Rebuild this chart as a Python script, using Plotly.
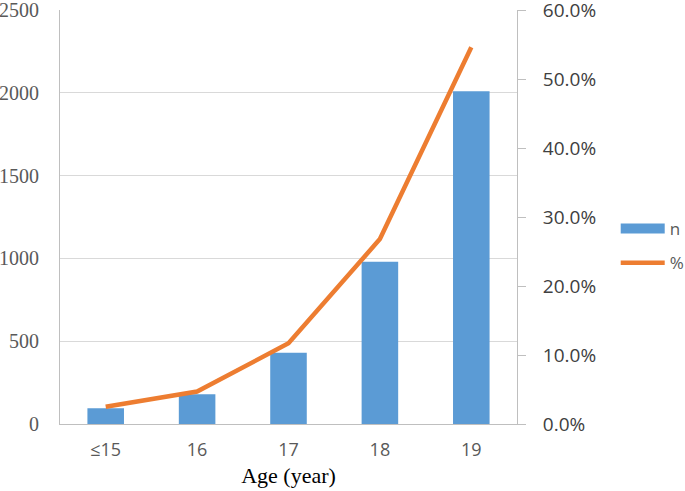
import plotly.graph_objects as go

categories = ["≤15", "16", "17", "18", "19"]
n_values = [95, 180, 430, 980, 2010]
pct_values = [2.5, 4.7, 11.7, 26.8, 54.6]
left_ticks = [0, 500, 1000, 1500, 2000, 2500]
right_ticks = [0, 10, 20, 30, 40, 50, 60]
right_labels = ["%.1f%%" % v for v in right_ticks]

BLUE = "#5B9BD5"
ORANGE = "#ED7D31"
GRID = "#D9D9D9"
AXIS = "#BFBFBF"

fig = go.Figure()
fig.add_trace(go.Bar(x=categories, y=n_values, name="n", marker=dict(color=BLUE, line=dict(width=0)),
                     width=0.4, showlegend=False, yaxis="y"))
fig.add_trace(go.Scatter(x=categories, y=pct_values, name="%", mode="lines",
                         line=dict(color=ORANGE, width=4.5), showlegend=False, yaxis="y2"))
# legend entries
fig.add_trace(go.Scatter(x=[None], y=[None], name="n", mode="lines", legendgroup="a",
                         line=dict(color=BLUE, width=12), showlegend=True))
fig.add_trace(go.Scatter(x=[None], y=[None], name="%", mode="lines", legendgroup="b",
                         line=dict(color=ORANGE, width=4.5), showlegend=True, yaxis="y2"))

fig.update_layout(
    width=685, height=491,
    margin=dict(l=60, r=168, t=10, b=67, autoexpand=False),
    plot_bgcolor="white", paper_bgcolor="white",
    xaxis=dict(
        type="category", showline=True, linecolor=AXIS, linewidth=1, automargin=False,
        showgrid=False, ticks="", ticklabelstandoff=9, ticklabeloverflow="allow",
        tickfont=dict(family="Open Sans", size=18, color="#595959"),
        title=dict(text="Age (year)", font=dict(family="Liberation Serif", size=22, color="#000000"), standoff=8),
    ),
    yaxis=dict(
        range=[0, 2500], tickvals=left_ticks, showline=True, linecolor=AXIS, linewidth=1, automargin=False,
        showgrid=True, gridcolor=GRID, gridwidth=1, ticks="", ticklabelstandoff=16, ticklabeloverflow="allow",
        tickfont=dict(family="Liberation Serif", size=20, color="#595959"), zeroline=False,
    ),
    yaxis2=dict(
        range=[0, 60], tickvals=right_ticks, ticktext=right_labels, overlaying="y", side="right",
        showline=False, showgrid=False, zeroline=False, automargin=False,
        ticks="outside", ticklen=21, tickcolor="rgba(0,0,0,0)", ticklabeloverflow="allow",
        tickfont=dict(family="Open Sans", size=19, color="#404040"),
    ),
    yaxis3=dict(
        range=[0, 60], tickvals=right_ticks, overlaying="y", side="right", showticklabels=False,
        showline=True, linecolor=AXIS, linewidth=1, showgrid=False, zeroline=False, automargin=False,
        ticks="outside", ticklen=8, tickcolor=AXIS,
    ),
    legend=dict(x=1.216, y=0.43, xanchor="left", yanchor="middle", itemwidth=44,
                font=dict(family="Open Sans", size=17, color="#595959"), tracegroupgap=9,
                bgcolor="rgba(0,0,0,0)"),
)
# invisible anchor trace so that yaxis3 is drawn
fig.add_trace(go.Scatter(x=[None], y=[None], yaxis="y3", showlegend=False, hoverinfo="skip"))

fig.write_html("out.html", config={"displayModeBar": False},
               post_script="document.body.style.margin='0';document.body.style.padding='0';")
